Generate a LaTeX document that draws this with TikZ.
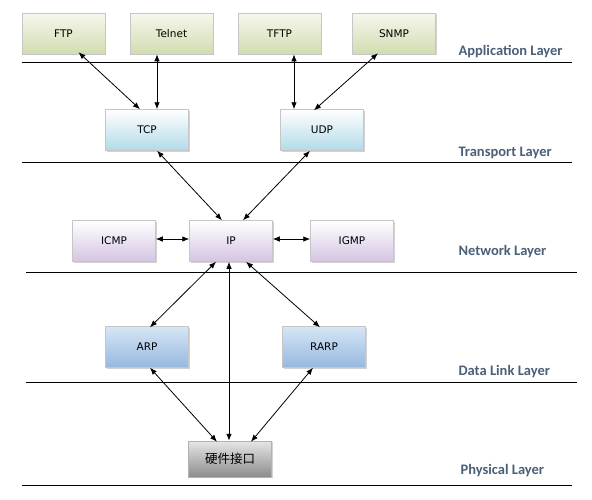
\documentclass[tikz,border=0pt]{standalone}
\usepackage{fontspec}
\setmainfont{DejaVu Sans}
\newfontfamily\labfont{Carlito}
\newfontfamily\cjk{Noto Sans CJK SC}
\usetikzlibrary{arrows.meta,calc,shadows}
\definecolor{labc}{HTML}{4A6078}
\definecolor{appT}{RGB}{246,248,238}
\definecolor{appB}{RGB}{208,220,176}
\definecolor{trB}{RGB}{178,218,232}
\definecolor{netB}{RGB}{212,196,226}
\definecolor{dlT}{RGB}{214,230,246}
\definecolor{dlB}{RGB}{150,184,222}
\tikzset{
  box/.style={rectangle, draw=gray!45, line width=0.5pt, minimum width=83pt, minimum height=41pt,
    inner sep=0pt, font=\fontsize{10.5}{12}\selectfont, drop shadow={shadow xshift=1.2pt, shadow yshift=-1.2pt, opacity=0.35}},
  appbox/.style={box, top color=appT, bottom color=appB},
  trbox/.style={box, top color=white, bottom color=trB},
  netbox/.style={box, top color=white, bottom color=netB},
  dlbox/.style={box, top color=dlT, bottom color=dlB},
  hwbox/.style={box, minimum height=36pt, draw=gray!60, top color=gray!20, bottom color=gray!90,
    font=\cjk\fontsize{12.5}{14}\selectfont},
  sep/.style={line width=0.9pt, black},
  lyr/.style={anchor=west, text=labc, font=\labfont\bfseries\fontsize{14.5}{16}\selectfont},
  link/.style={line width=0.8pt, {Latex[length=7pt,width=5.5pt]}-{Latex[length=7pt,width=5.5pt]}},
}
\begin{document}
\begin{tikzpicture}[x=1pt,y=-1pt]
\useasboundingbox[fill=white] (0,0) rectangle (592,499);
% separators
\coordinate (l1a) at (22,62);  \coordinate (l1b) at (572,62);
\coordinate (l2a) at (22,162); \coordinate (l2b) at (572,162);
\coordinate (l3a) at (26,272); \coordinate (l3b) at (577,272);
\coordinate (l4a) at (26,382); \coordinate (l4b) at (577,382);
\coordinate (l5a) at (22,485); \coordinate (l5b) at (572,485);
\draw[sep] (l1a) -- (l1b);
\draw[sep] (l2a) -- (l2b);
\draw[sep] (l3a) -- (l3b);
\draw[sep] (l4a) -- (l4b);
\draw[sep] (l5a) -- (l5b);
% layer labels
\node[lyr] (la) at (455,52) {Application Layer};
\node[lyr] (lt) at (455,153) {Transport Layer};
\node[lyr] (ln) at (455,252) {Network Layer};
\node[lyr] (ld) at (455,372) {Data Link Layer};
\node[lyr] (lp) at (457,471) {Physical Layer};
% boxes
\node[appbox] (ftp) at (63.5,33.5) {FTP};
\node[appbox] (telnet) at (171.5,33.5) {Telnet};
\node[appbox] (tftp) at (279.5,33.5) {TFTP};
\node[appbox] (snmp) at (394,33.5) {SNMP};
\node[trbox] (tcp) at (147,130) {TCP};
\node[trbox] (udp) at (322,130) {UDP};
\node[netbox] (icmp) at (114,241) {ICMP};
\node[netbox] (ip) at (231,241) {IP};
\node[netbox] (igmp) at (352,241) {IGMP};
\node[dlbox] (arp) at (147,347) {ARP};
\node[dlbox] (rarp) at (324,347) {RARP};
\node[hwbox] (hw) at (230,459) {硬件接口};
% links
\draw[link] ($(ftp.south)+(15,-2)$) -- ($(tcp.north)+(-7,0)$);
\draw[link] ($(telnet.south)+(-14.5,0)$) -- ($(tcp.north)+(10,0)$);
\draw[link] ($(tftp.south)+(14.5,0)$) -- ($(udp.north)+(-28,0)$);
\draw[link] ($(snmp.south)+(-16,-1)$) -- ($(udp.north)+(-8,1)$);
\draw[link] ($(tcp.south)+(10,0)$) -- ($(ip.north)+(-9,0)$);
\draw[link] ($(udp.south)+(-12,0)$) -- ($(ip.north)+(12,0)$);
\draw[link] ($(icmp.east)+(0,-2)$) -- ($(ip.west)+(0,-2)$);
\draw[link] ($(ip.east)+(0,-2)$) -- ($(igmp.west)+(0,-2)$);
\draw[link] ($(ip.south)+(-15,0)$) -- ($(arp.north)+(3,1)$);
\draw[link] ($(ip.south)+(15,0)$) -- ($(rarp.north)+(-4,1)$);
\draw[link] ($(ip.south)+(-2,0)$) -- ($(hw.north)+(-1,0)$);
\draw[link] ($(arp.south)+(3,0)$) -- ($(hw.north)+(-13,1)$);
\draw[link] ($(rarp.south)+(-11,0)$) -- ($(hw.north)+(21,1)$);
\end{tikzpicture}
\end{document}
